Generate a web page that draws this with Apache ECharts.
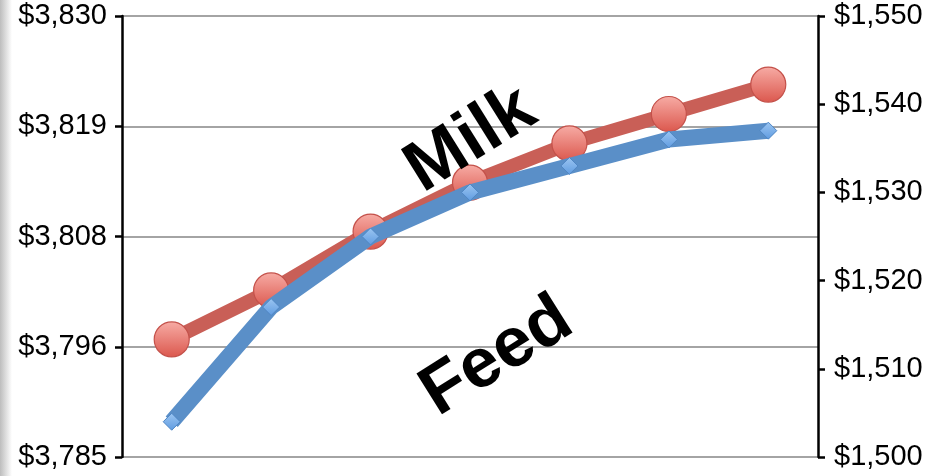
<!DOCTYPE html>
<html>
<head>
<meta charset="utf-8">
<script src="https://cdn.jsdelivr.net/npm/echarts@6/dist/echarts.min.js"></script>
<style>
html,body{margin:0;padding:0;background:#fff;}
#chart{width:930px;height:476px;}
</style>
</head>
<body>
<div id="chart"></div>
<script>
const categories = ['1', '2', '3', '4', '5', '6', '7'];
const milkValues = [3797, 3802, 3808, 3813, 3817, 3820, 3823];
const feedValues = [1504, 1517, 1525, 1530, 1533, 1536, 1537];
const milkAxisMin = 3785, milkAxisMax = 3830, milkAxisStep = 11.25;
const feedAxisMin = 1500, feedAxisMax = 1550, feedAxisStep = 10;
const seriesLabels = ['Milk', 'Feed'];

const chart = echarts.init(document.getElementById('chart'));
const FONT = '"Liberation Sans", Arial, Helvetica, sans-serif';
const money = v => '$' + Math.round(v).toLocaleString('en-US');

chart.setOption({
  animation: false,
  backgroundColor: '#fff',
  grid: { left: 122, right: 112, top: 16, bottom: 19, containLabel: false },
  xAxis: {
    type: 'category',
    data: categories,
    boundaryGap: true,
    axisLine: { show: false },
    axisTick: { show: false },
    axisLabel: { show: false },
    splitLine: { show: false }
  },
  yAxis: [
    {
      type: 'value', position: 'left',
      min: milkAxisMin, max: milkAxisMax, interval: milkAxisStep,
      axisLine: { show: true, lineStyle: { color: '#000', width: 2.5 } },
      axisTick: { show: true, inside: false, length: 7, lineStyle: { color: '#000', width: 2.5 } },
      axisLabel: { formatter: money, color: '#000', fontSize: 29, fontFamily: FONT, margin: 15 },
      splitLine: { show: true, lineStyle: { color: '#a4a4a4', width: 2 } }
    },
    {
      type: 'value', position: 'right',
      min: feedAxisMin, max: feedAxisMax, interval: feedAxisStep,
      axisLine: { show: true, lineStyle: { color: '#000', width: 2.5 } },
      axisTick: { show: true, inside: false, length: 7, lineStyle: { color: '#000', width: 2.5 } },
      axisLabel: { formatter: money, color: '#000', fontSize: 29, fontFamily: FONT, margin: 16 },
      splitLine: { show: false }
    }
  ],
  series: [
    {
      name: seriesLabels[0], type: 'line', yAxisIndex: 0, data: milkValues,
      symbol: 'circle', symbolSize: 35, z: 2,
      lineStyle: { color: '#c95f57', width: 14 },
      itemStyle: {
        color: new echarts.graphic.LinearGradient(0, 0, 0, 1, [
          { offset: 0, color: '#f7aca5' },
          { offset: 1, color: '#db574d' }
        ]),
        borderColor: '#c4514a', borderWidth: 1.2
      }
    },
    {
      name: seriesLabels[1], type: 'line', yAxisIndex: 1, data: feedValues,
      symbol: 'diamond', symbolSize: 17, z: 3,
      lineStyle: { color: '#5a8fc8', width: 16 },
      itemStyle: {
        color: new echarts.graphic.LinearGradient(0, 0, 0, 1, [
          { offset: 0, color: '#9cc6f2' },
          { offset: 1, color: '#5f9be0' }
        ]),
        borderColor: '#4f86c4', borderWidth: 1
      }
    }
  ],
  graphic: [
    {
      type: 'rect', left: 0, top: 0, z: -1,
      shape: { width: 12, height: 476 },
      style: {
        fill: new echarts.graphic.LinearGradient(0, 0, 1, 0, [
          { offset: 0, color: '#bdbdbd' },
          { offset: 1, color: '#ffffff' }
        ])
      }
    },
    {
      type: 'text', x: 471, y: 140, rotation: 32 * Math.PI / 180, z: 10,
      style: { text: seriesLabels[0], font: 'bold 71px ' + FONT, fill: '#000', align: 'center', verticalAlign: 'middle' }
    },
    {
      type: 'text', x: 497, y: 357, rotation: 32 * Math.PI / 180, z: 10,
      style: { text: seriesLabels[1], font: 'bold 70px ' + FONT, fill: '#000', align: 'center', verticalAlign: 'middle' }
    }
  ]
});
</script>
</body>
</html>
